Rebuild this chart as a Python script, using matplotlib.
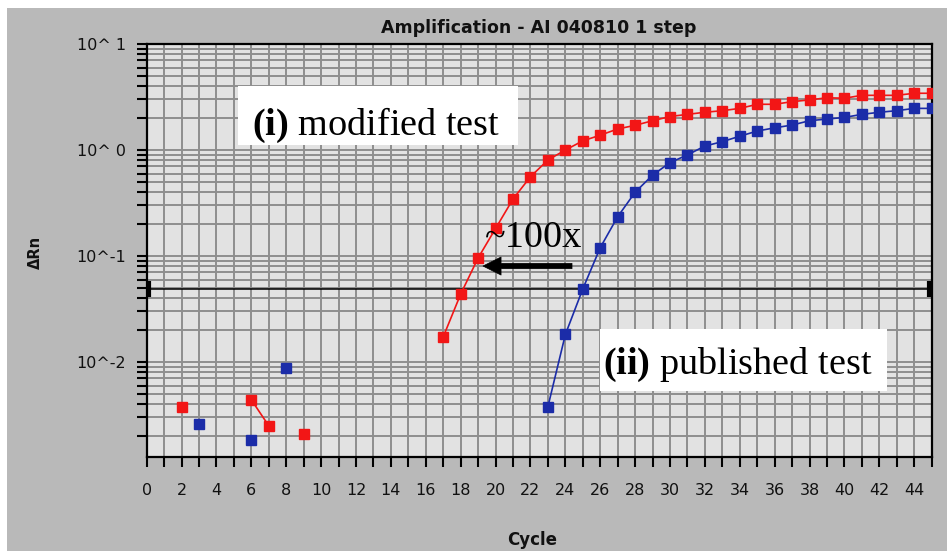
import numpy as np
import matplotlib.pyplot as plt
from matplotlib.patches import Rectangle
from matplotlib.ticker import FixedLocator, FixedFormatter, LogLocator, NullFormatter

nan = np.nan

cycles = np.arange(1, 46)

# delta Rn per cycle, NaN where the reading was not plotted
modified = [nan, 3.8e-3, nan, nan, nan, 4.4e-3, 2.5e-3, nan, 2.1e-3, nan,
            nan, nan, nan, nan, nan, nan, 0.0173, 0.0438, 0.096, 0.182,
            0.345, 0.56, 0.805, 1.0, 1.22, 1.38, 1.58, 1.71, 1.89, 2.07,
            2.17, 2.27, 2.35, 2.47, 2.70, 2.70, 2.86, 2.97, 3.11, 3.08,
            3.28, 3.28, 3.28, 3.43, 3.43]
published = [nan, nan, 2.6e-3, nan, nan, 1.84e-3, nan, 8.8e-3, nan, nan,
             nan, nan, nan, nan, nan, nan, nan, nan, nan, nan,
             nan, nan, 3.8e-3, 0.0182, 0.049, 0.120, 0.235, 0.40, 0.58, 0.76,
             0.90, 1.09, 1.20, 1.35, 1.51, 1.62, 1.72, 1.89, 1.96, 2.03,
             2.17, 2.27, 2.35, 2.47, 2.47]
threshold = 0.049

y_major = [1e-2, 1e-1, 1e0, 1e1]
y_labels = ["10^-2", "10^-1", "10^ 0", "10^ 1"]
x_labels = [str(c) if c % 2 == 0 else "" for c in range(0, 46)]

BG = "#b9b9b9"
PLOT_BG = "#e2e2e2"
GRID = "#8e8e8e"
RED = "#f21616"
BLUE = "#1b2ca8"

fig = plt.figure(figsize=(9.47, 5.51), dpi=100, facecolor="white")
fig.patches.append(Rectangle((7 / 947, 0), 1, 543 / 551, transform=fig.transFigure,
                             facecolor=BG, edgecolor="none", zorder=-10))

ax = fig.add_axes([146.7 / 947, 94.3 / 551, 785 / 947, 412.7 / 551])
ax.set_facecolor(PLOT_BG)
ax.set_yscale("log")
ax.set_xlim(0, 45)
ax.set_ylim(1.28e-3, 10)

# grid on every cycle and every log sub-division
ax.xaxis.set_major_locator(FixedLocator(range(0, 46)))
ax.xaxis.set_major_formatter(FixedFormatter(x_labels))
ax.yaxis.set_major_locator(FixedLocator(y_major))
ax.yaxis.set_major_formatter(FixedFormatter(y_labels))
ax.yaxis.set_minor_locator(LogLocator(base=10, subs=np.arange(2, 10)))
ax.yaxis.set_minor_formatter(NullFormatter())
ax.grid(True, which="both", color=GRID, linewidth=1.4, zorder=0)
ax.set_axisbelow(True)

for side in ax.spines.values():
    side.set_linewidth(1.6)
    side.set_color("black")
ax.tick_params(axis="both", which="both", direction="out", length=7, width=1.5,
               color="black", labelsize=11.5, labelcolor="#111111")
ax.tick_params(axis="x", pad=12)
ax.tick_params(axis="y", pad=8)

ax.plot(cycles, modified, color=RED, lw=1.2, marker="s", ms=7, mec=RED, mfc=RED, zorder=3)
ax.plot(cycles, published, color=BLUE, lw=1.2, marker="s", ms=7, mec=BLUE, mfc=BLUE, zorder=3)

# threshold with end bars
ax.plot([0, 45], [threshold, threshold], color="black", lw=1.1, zorder=2)
ax.plot([0.15, 44.85], [threshold, threshold], ls="none", marker="|", ms=12, mew=3,
        color="black", zorder=2, clip_on=False)

# labelled boxes
ax.add_patch(Rectangle((0.1163, 0.7553), 0.3567, 0.1429, transform=ax.transAxes,
                       facecolor="white", edgecolor="none", zorder=4))
ax.add_patch(Rectangle((0.5775, 0.1592), 0.3655, 0.1502, transform=ax.transAxes,
                       facecolor="white", edgecolor="none", zorder=4))

plt.rcParams["mathtext.fontset"] = "custom"
plt.rcParams["mathtext.rm"] = "Liberation Serif"
plt.rcParams["mathtext.bf"] = "Liberation Serif:bold"

serif = dict(family="Liberation Serif", fontsize=27.5, color="black", zorder=5)
ax.text(0.134, 0.7795, r"$\mathbf{(i)}$ modified test", transform=ax.transAxes,
        ha="left", va="baseline", **serif)
ax.text(0.5813, 0.2006, r"$\mathbf{(ii)}$ published test", transform=ax.transAxes,
        ha="left", va="baseline", **serif)
ax.text(0.431, 0.5078, "~100x", transform=ax.transAxes, ha="left", va="baseline", **serif)

ax.annotate("", xy=(0.4284, 0.462), xytext=(0.5418, 0.462), xycoords="axes fraction",
            arrowprops=dict(arrowstyle="simple,head_length=1.3,head_width=1.3,tail_width=0.38",
                            facecolor="black", edgecolor="black", lw=0.5,
                            shrinkA=0, shrinkB=0), zorder=5)

fig.text(539 / 947, 1 - 28 / 551, "Amplification - AI 040810 1 step", ha="center",
         va="center", fontsize=12.5, fontweight="bold", color="#111111")
fig.text(532 / 947, 1 - 540 / 551, "Cycle", ha="center", va="center",
         fontsize=12, fontweight="bold", color="#111111")
fig.text(35 / 947, 1 - 252 / 551, "ΔRn", ha="center", va="center", rotation=90,
         fontsize=10.5, fontweight="bold", color="#111111")

fig.savefig("out.png", dpi=100, facecolor=fig.get_facecolor())
